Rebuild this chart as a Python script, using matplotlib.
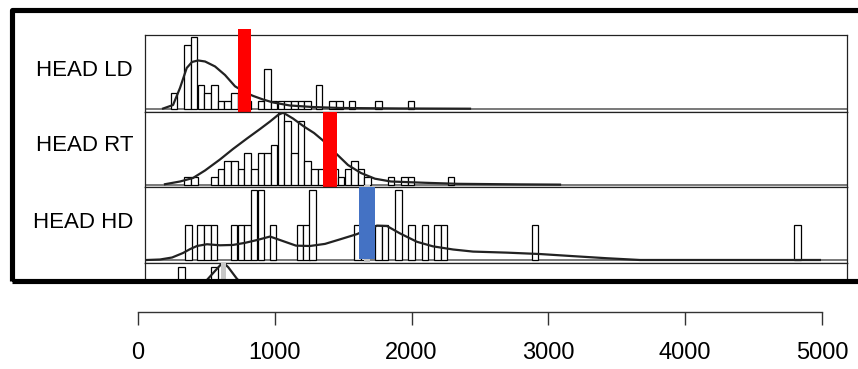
import matplotlib
matplotlib.use("Agg")

import matplotlib.pyplot as plt
from matplotlib.patches import Rectangle


#====================================================================================================
# data

panel_names = ["HEAD LD", "HEAD RT", "HEAD HD"]

# histogram bins (bin centre, count)
ld_bins   = [265, 363, 411, 461, 509, 558, 607, 655, 704, 753, 801,
             899, 947, 996, 1045, 1094, 1143, 1191, 1240,
             1325, 1423, 1472, 1564, 1759, 1996]
ld_counts = [2, 8, 9, 3, 2, 3, 1, 1, 2, 2, 1,
             1, 5, 1, 1, 1, 1, 1, 1,
             3, 1, 1, 1, 1, 1]

rt_bins   = [363, 412, 558, 607, 655, 704, 753, 801, 850, 899,
             947, 996, 1045, 1094, 1143, 1191, 1240, 1289, 1338, 1386,
             1435, 1484, 1533, 1581, 1630, 1679, 1850, 1947, 1996, 2288]
rt_counts = [1, 1, 1, 2, 3, 3, 2, 4, 2, 4,
             4, 5, 9, 8, 4, 8, 3, 2, 2, 3,
             2, 1, 2, 3, 2, 1, 1, 1, 1, 1]

hd_bins   = [368, 458, 507, 556, 702, 751, 799, 848, 897, 987,
             1184, 1233, 1277, 1605, 1655, 1757, 1806, 1903, 2000, 2098,
             2188, 2237, 2902, 4822]
hd_counts = [1, 1, 1, 1, 1, 1, 1, 2, 2, 1,
             1, 1, 2, 1, 1, 1, 1, 2, 1, 1,
             1, 1, 1, 1]

# fourth (cut off) panel
extra_bins   = [319, 558]
extra_counts = [1, 1]

# density curves (x, y in count units of each panel)
ld_dens_x = [183, 256, 307, 356, 395, 439, 490, 563, 636, 709, 782, 841, 914, 987, 1111, 1279, 1477, 1915, 2427]
ld_dens_y = [0.02, 0.46, 2.6, 5.09, 5.84, 6.03, 5.9, 5.28, 4.21, 2.8, 2.05, 1.6, 1.15, 0.78, 0.4, 0.21, 0.09, 0.03, 0.0]

rt_dens_x = [197, 307, 402, 490, 599, 694, 797, 892, 965, 1023, 1060, 1133, 1213, 1287, 1352, 1455, 1535, 1630, 1732, 1849, 2098, 2339, 2792, 3085]
rt_dens_y = [0.06, 0.4, 0.84, 1.78, 3.15, 4.46, 5.78, 6.96, 7.9, 8.71, 9.02, 8.27, 7.27, 6.46, 5.53, 3.78, 2.46, 1.46, 0.75, 0.4, 0.24, 0.11, 0.04, 0.01]

hd_dens_x = [66, 161, 249, 329, 380, 431, 504, 599, 694, 782, 870, 965, 1060, 1155, 1257, 1367, 1477, 1601, 1674, 1747, 1820, 1915, 2039, 2156, 2303, 2449, 2697, 2939, 3180, 3428, 3670, 4985]
hd_dens_y = [0.0, 0.014, 0.071, 0.2, 0.31, 0.4, 0.45, 0.42, 0.43, 0.49, 0.57, 0.67, 0.54, 0.41, 0.4, 0.46, 0.59, 0.74, 0.87, 0.98, 0.97, 0.76, 0.52, 0.39, 0.3, 0.24, 0.21, 0.17, 0.11, 0.05, 0.0, 0.0]

extra_dens_x = [490, 514, 587, 621, 660, 721, 746]
extra_dens_y = [0.75, 0.81, 0.995, 1.08, 0.995, 0.81, 0.75]

# marker bars (centre, width)
ld_marker = (777, 97)
rt_marker = (1403, 98)
hd_marker = (1675, 115)
extra_marker = (627, 37)

axis_ticks = [0, 1000, 2000, 3000, 4000, 5000]


#====================================================================================================
W, H = 858, 369

fig = plt.figure(figsize=(W / 100, H / 100), dpi=100)


def px_axes(left, top, right, bottom):
    return fig.add_axes([left / W, 1 - bottom / H, (right - left) / W, (bottom - top) / H])


x_range = (51, 5183)


def setup_panel(ax, ylim):
    ax.set_xlim(*x_range)
    ax.set_ylim(*ylim)
    ax.set_xticks([])
    ax.set_yticks([])
    for s in ax.spines.values():
        s.set_linewidth(0.9)
        s.set_color("#222222")


def draw_hist(ax, bins, counts, dens_x, dens_y):
    ax.bar(bins, counts, width=47, facecolor="white", edgecolor="black", linewidth=0.9, zorder=2)
    ax.axhline(0, color="#555555", linewidth=1.1, zorder=1)
    ax.plot(dens_x, dens_y, color="#222222", linewidth=1.6, zorder=3)


# Panels
#----------------------------------------------------------------------------------------------------
ax1 = px_axes(145, 35, 847, 111.5)
setup_panel(ax1, (-0.35, 9.21))
draw_hist(ax1, ld_bins, ld_counts, ld_dens_x, ld_dens_y)
ax1.bar(ld_marker[0], 10.3, bottom=-0.35, width=ld_marker[1], color="#ff0000", zorder=5, clip_on=False)

ax2 = px_axes(145, 111.5, 847, 187.3)
setup_panel(ax2, (-0.325, 9.15))
draw_hist(ax2, rt_bins, rt_counts, rt_dens_x, rt_dens_y)
ax2.bar(rt_marker[0], 9.4, bottom=-0.3, width=rt_marker[1], color="#ff0000", zorder=5)

ax3 = px_axes(145, 187.3, 847, 263)
setup_panel(ax3, (-0.086, 2.077))
draw_hist(ax3, hd_bins, hd_counts, hd_dens_x, hd_dens_y)
ax3.bar(hd_marker[0], 2.2, bottom=-0.06, width=40, color="#c4c4c4", zorder=4, clip_on=False)
ax3.bar(hd_marker[0], 2.06, bottom=0.02, width=hd_marker[1], color="#4472c4", zorder=5)

ax4 = px_axes(145, 263, 847, 279)
setup_panel(ax4, (0.8, 1.067))
ax4.spines["bottom"].set_visible(False)
ax4.bar(extra_bins, extra_counts, width=47, facecolor="white", edgecolor="black", linewidth=0.9, zorder=2)
ax4.plot(extra_dens_x, extra_dens_y, color="#222222", linewidth=1.6, zorder=3)
ax4.bar(extra_marker[0], 1.0, bottom=0.3, width=extra_marker[1], color="#c8c8c8", zorder=4)


# Labels
#----------------------------------------------------------------------------------------------------
label_y = [71, 146, 222]

for name, y in zip(panel_names, label_y):
    fig.text(133 / W, 1 - y / H, name, ha="right", va="center",
             fontsize=16, family=["Liberation Sans", "DejaVu Sans"])


# Frame
#----------------------------------------------------------------------------------------------------
frame = Rectangle((11.5 / W, 1 - 280.5 / H), (890 - 11.5) / W, (280.5 - 9.5) / H,
                  transform=fig.transFigure, fill=False, edgecolor="black",
                  linewidth=3.7, joinstyle="round", zorder=20)
fig.add_artist(frame)


# Bottom axis
#----------------------------------------------------------------------------------------------------
axb = fig.add_axes([138 / W, 1 - 312 / H, (822 - 138) / W, 0.002])
axb.set_xlim(0, 5000)
axb.set_yticks([])
for s in ["left", "right", "top"]:
    axb.spines[s].set_visible(False)
axb.spines["bottom"].set_linewidth(1.0)
axb.spines["bottom"].set_color("#333333")
axb.patch.set_alpha(0)
axb.set_xticks(axis_ticks)
axb.set_xticklabels([str(t) for t in axis_ticks],
                    family=["Liberation Sans Narrow", "Liberation Sans", "DejaVu Sans"], fontsize=17)
axb.tick_params(axis="x", direction="out", length=9.5, width=1.0, color="#333333", pad=12)


fig.savefig("out.png", dpi=100)
